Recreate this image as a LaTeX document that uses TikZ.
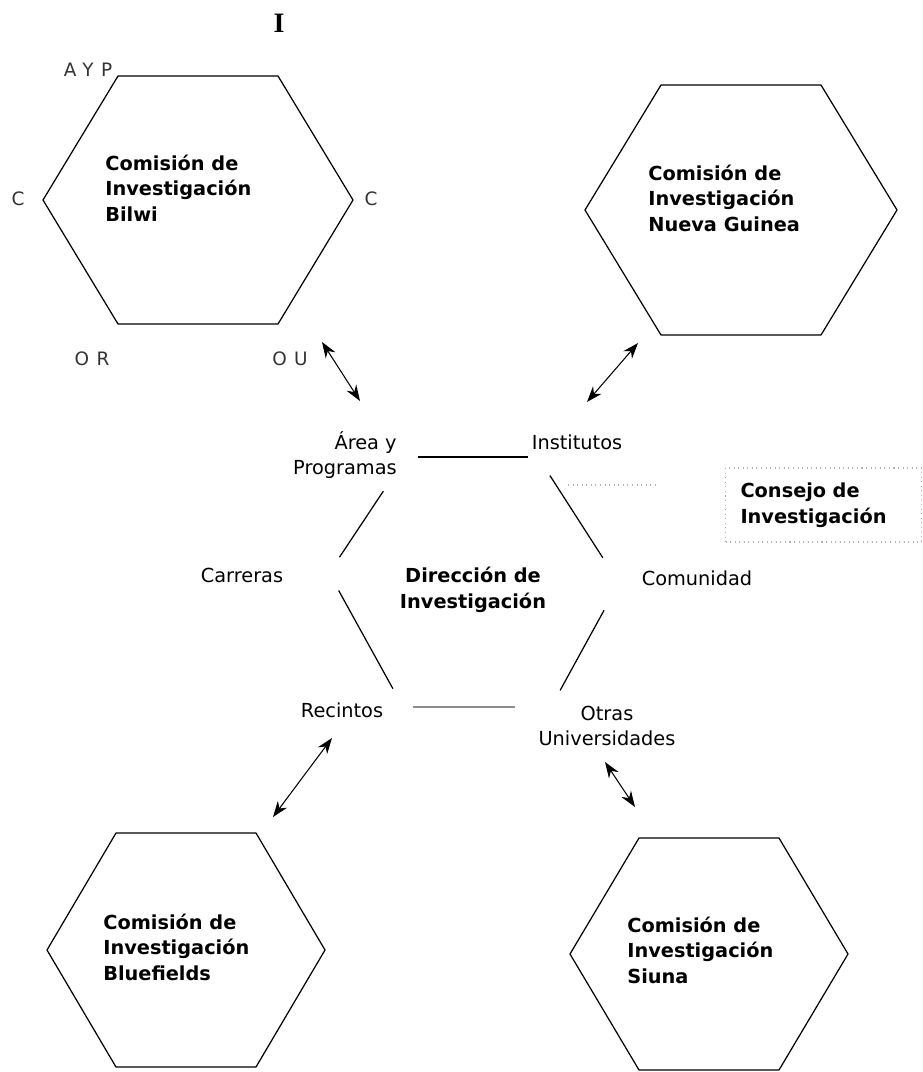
\documentclass[tikz,border=0pt]{standalone}
\usepackage{fontspec}
\setmainfont{DejaVu Sans}
\newfontfamily\markfont{Liberation Serif}
\newfontfamily\letrafont[LetterSpace=40]{DejaVu Sans}
\usetikzlibrary{positioning, calc, arrows.meta}

\begin{document}
\begin{tikzpicture}[x=0.02cm, y=-0.02cm]
  \tikzset{hexline/.style={draw, line width=0.7pt, line join=round}}
  \tikzset{comision/.style={anchor=west, inner sep=0pt, align=left, font=\fontsize{11}{14.5}\selectfont\bfseries}}
  \tikzset{lbl/.style={inner sep=0pt, font=\fontsize{11}{14.5}\selectfont}}
  \tikzset{letra/.style={inner sep=0pt, text=black!80, font=\fontsize{10.5}{12}\selectfont\letrafont}}
  \tikzset{ptr/.style={<->, >={Stealth[length=9pt, width=6.5pt]}, line width=0.6pt}}
  \tikzset{faint/.style={draw=black!30, dotted, line width=0.6pt}}

  \useasboundingbox (0,0) rectangle (923,1072);

  % comisiones
  \foreach \n/\cx/\cy/\hw/\hh/\th in {bilwi/198/200/155/124/80, guinea/741/210/156/125/80, bluefields/186/950/139/117/70, siuna/709/954/139/116/70}{
    \coordinate (\n-l) at (\cx-\hw, \cy);
    \coordinate (\n-tl) at (\cx-\th, \cy-\hh);
    \coordinate (\n-tr) at (\cx+\th, \cy-\hh);
    \coordinate (\n-r) at (\cx+\hw, \cy);
    \coordinate (\n-br) at (\cx+\th, \cy+\hh);
    \coordinate (\n-bl) at (\cx-\th, \cy+\hh);
    \draw[hexline] (\n-l) -- (\n-tl) -- (\n-tr) -- (\n-r) -- (\n-br) -- (\n-bl) -- cycle;
  }
  \node[comision] (ci-bilwi) at (105, 188) {Comisión de\\Investigación\\Bilwi};
  \node[comision] (ci-guinea) at (648, 198) {Comisión de\\Investigación\\Nueva Guinea};
  \node[comision] (ci-bluefields) at (103, 947) {Comisión de\\Investigación\\Bluefields};
  \node[comision] (ci-siuna) at (627, 950) {Comisión de\\Investigación\\Siuna};

  % letras de Bilwi
  \node[inner sep=0pt, font=\fontsize{16}{16}\selectfont\markfont\bfseries] (l-i) at (279, 23) {I};
  \node[letra] (l-ayp) at (88, 70) {AYP};
  \node[letra] (l-cl) at (18, 199) {C};
  \node[letra] (l-cr) at (371, 199) {C};
  \node[letra] (l-or) at (92, 359) {OR};
  \node[letra] (l-ou) at (290, 359) {OU};

  % direccion
  \coordinate (dir-tl) at (406, 457);
  \coordinate (dir-tr) at (538, 457);
  \coordinate (dir-r) at (619, 583);
  \coordinate (dir-br) at (551, 707);
  \coordinate (dir-bl) at (403, 707);
  \coordinate (dir-l) at (329, 573);
  \foreach \a/\b/\s/\e/\c in {tl/tr/12/10/black, tr/r/22/30/black, r/br/31/19/black, br/bl/36/10/black!45, bl/l/21/20/black, l/tl/19/41/black}{
    \draw[line width=0.7pt, draw=\c, shorten <=\s*0.02cm, shorten >=\e*0.02cm] (dir-\a) -- (dir-\b);
  }
  \node[lbl, font=\fontsize{11}{14.5}\selectfont\bfseries, align=center] (dir) at (473, 590) {Dirección de\\Investigación};
  \node[lbl, align=right, anchor=east] (ap) at (397, 455) {Área y\\Programas};
  \node[lbl] (inst) at (577, 442) {Institutos};
  \node[lbl] (carr) at (242, 575) {Carreras};
  \node[lbl] (comu) at (697, 578) {Comunidad};
  \node[lbl] (rec) at (342, 710) {Recintos};
  \node[lbl, align=center] (otras) at (607, 726) {Otras\\Universidades};

  % consejo
  \node[comision, draw=black!30, dotted, line width=0.6pt, text width=3.32cm, inner xsep=0.3cm, minimum height=1.48cm] (consejo) at (725, 505) {Consejo de\\Investigación};
  \coordinate (enlace) at (568, 485);
  \draw[faint, shorten >=1.36cm] (enlace) -- (enlace -| consejo.west);

  % flechas
  \coordinate (p-bilwi) at (322, 342);
  \coordinate (p-ap) at (360, 401);
  \coordinate (p-guinea) at (638, 343);
  \coordinate (p-inst) at (587, 402);
  \coordinate (p-rec) at (332, 738);
  \coordinate (p-bluefields) at (273, 817);
  \coordinate (p-otras) at (605, 762);
  \coordinate (p-siuna) at (635, 807);
  \foreach \u/\v in {bilwi/ap, guinea/inst, rec/bluefields, otras/siuna}{
    \draw[ptr] (p-\u) -- (p-\v);
  }
\end{tikzpicture}
\end{document}
